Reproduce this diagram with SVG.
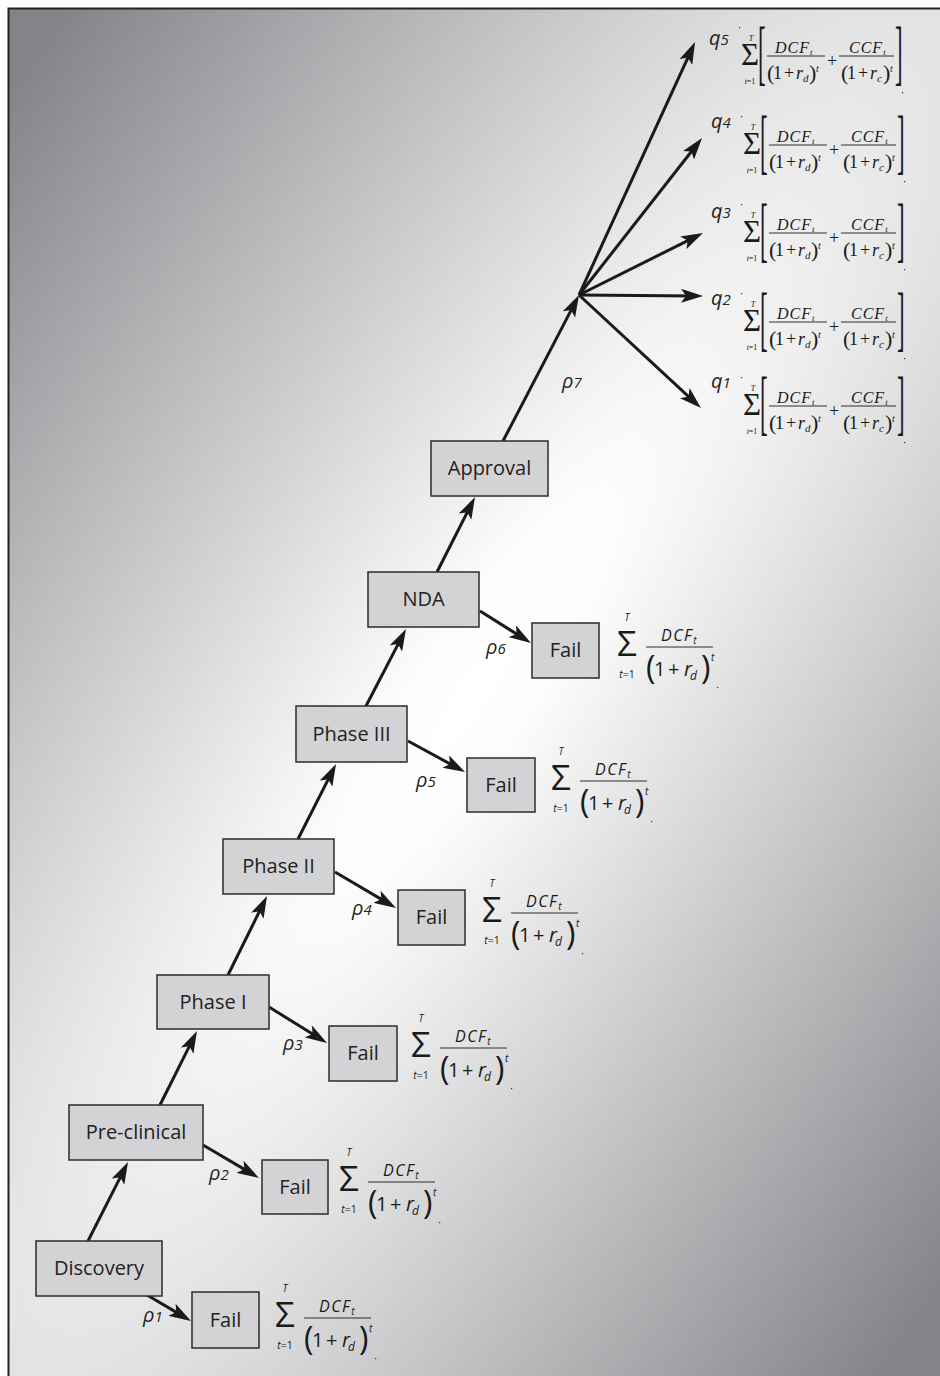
<svg xmlns="http://www.w3.org/2000/svg" width="940" height="1376" viewBox="0 0 940 1376">
<defs>
<radialGradient id="bg" gradientUnits="userSpaceOnUse" cx="0" cy="0" r="1" gradientTransform="translate(474,692) rotate(-55.7) scale(3000,730)">
<stop offset="0" stop-color="#ffffff"/>
<stop offset="0.08" stop-color="#fcfcfc"/>
<stop offset="1" stop-color="#838488"/>
</radialGradient>
<marker id="ah" viewBox="0 0 22 14" markerWidth="22" markerHeight="14" markerUnits="userSpaceOnUse" refX="14" refY="7" orient="auto">
<path d="M0,0 L22,7 L0,14 L5,7 Z" fill="#1a1a1a"/>
</marker>
<style>
.box{fill:#d3d3d5;stroke:#2b2b2b;stroke-width:1.5}
.lbl{font-family:'Open Sans','Liberation Sans',sans-serif;font-size:20px;fill:#222;text-anchor:middle}
.conn{stroke:#1a1a1a;stroke-width:3;fill:none;marker-end:url(#ah)}
.rho{font-family:'Open Sans','Liberation Sans',sans-serif;font-style:italic;font-size:20px;fill:#222}
.dg{font-size:15px}
.s{font-family:'Open Sans','Liberation Sans',sans-serif;fill:#1a1a1a}
.sr{font-family:'Liberation Serif','Times New Roman',serif;fill:#1a1a1a}
.it{font-style:italic}
.mid{text-anchor:middle}
.fl{stroke:#1a1a1a;stroke-width:0.9}
.dot{fill:#333}
</style>
</defs>
<rect x="8" y="8" width="932" height="1368" fill="url(#bg)"/>
<path d="M8.5,1376 V8.5 H940" fill="none" stroke="#222" stroke-width="2"/>

<g id="connectors">
<line class="conn" x1="88" y1="1241" x2="124.4" y2="1169.1"/>
<line class="conn" x1="160" y1="1105" x2="193.4" y2="1038.2"/>
<line class="conn" x1="228" y1="975" x2="263.5" y2="903.2"/>
<line class="conn" x1="298" y1="839" x2="332.4" y2="771.1"/>
<line class="conn" x1="366" y1="706" x2="402.3" y2="636.1"/>
<line class="conn" x1="437" y1="572" x2="471.4" y2="504.1"/>
<line class="conn" x1="503" y1="441" x2="575.3" y2="302.1"/>
<line class="conn" x1="579" y1="295" x2="691.7" y2="49.3"/>
<line class="conn" x1="579" y1="295" x2="697.1" y2="144.3"/>
<line class="conn" x1="579" y1="295" x2="695.8" y2="236.6"/>
<line class="conn" x1="579" y1="295" x2="695" y2="295.9"/>
<line class="conn" x1="579" y1="295" x2="695.1" y2="402.6"/>
<line class="conn" x1="147" y1="1295" x2="184.1" y2="1316.9"/>
<line class="conn" x1="203" y1="1145" x2="252.1" y2="1173.9"/>
<line class="conn" x1="269" y1="1007" x2="320.2" y2="1038.8"/>
<line class="conn" x1="335" y1="872" x2="389.1" y2="903.9"/>
<line class="conn" x1="408" y1="741" x2="458" y2="768.2"/>
<line class="conn" x1="480" y1="611" x2="524.2" y2="638.8"/>
</g>

<g id="discovery"><rect class="box" x="36" y="1241" width="126" height="55"/><text class="lbl" x="99" y="1275">Discovery</text></g>
<g id="preclinical"><rect class="box" x="69" y="1105" width="134" height="55"/><text class="lbl" x="136" y="1139">Pre-clinical</text></g>
<g id="phase1"><rect class="box" x="157" y="975" width="112" height="54"/><text class="lbl" x="213" y="1009">Phase I</text></g>
<g id="phase2"><rect class="box" x="223" y="839" width="111" height="55"/><text class="lbl" x="278.5" y="873">Phase II</text></g>
<g id="phase3"><rect class="box" x="296" y="706" width="111" height="56"/><text class="lbl" x="351.5" y="741">Phase III</text></g>
<g id="nda"><rect class="box" x="368" y="572" width="111" height="55"/><text class="lbl" x="423.5" y="606">NDA</text></g>
<g id="approval"><rect class="box" x="431" y="441" width="117" height="55"/><text class="lbl" x="489.5" y="475">Approval</text></g>

<g id="fail1"><rect class="box" x="192" y="1292" width="67" height="56"/><text class="lbl" x="225.5" y="1327">Fail</text></g>
<g id="fail2"><rect class="box" x="262" y="1160" width="66" height="54"/><text class="lbl" x="295" y="1194">Fail</text></g>
<g id="fail3"><rect class="box" x="329" y="1026" width="68" height="55"/><text class="lbl" x="363" y="1060">Fail</text></g>
<g id="fail4"><rect class="box" x="398" y="890" width="67" height="55"/><text class="lbl" x="431.5" y="924">Fail</text></g>
<g id="fail5"><rect class="box" x="467" y="758" width="68" height="54"/><text class="lbl" x="501" y="792">Fail</text></g>
<g id="fail6"><rect class="box" x="532" y="623" width="67" height="55"/><text class="lbl" x="565.5" y="657">Fail</text></g>

<g id="rho-labels">
<text class="rho" x="143" y="1322">ρ<tspan class="dg">1</tspan></text>
<text class="rho" x="209" y="1180">ρ<tspan class="dg">2</tspan></text>
<text class="rho" x="283" y="1050">ρ<tspan class="dg">3</tspan></text>
<text class="rho" x="352" y="915">ρ<tspan class="dg">4</tspan></text>
<text class="rho" x="416" y="787">ρ<tspan class="dg">5</tspan></text>
<text class="rho" x="486" y="654">ρ<tspan class="dg">6</tspan></text>
<text class="rho" x="562" y="388">ρ<tspan class="dg">7</tspan></text>
</g>

<g id="q-labels">
<text class="rho" x="709" y="45">q<tspan class="dg">5</tspan></text>
<text class="rho" x="711" y="128">q<tspan class="dg">4</tspan></text>
<text class="rho" x="711" y="218">q<tspan class="dg">3</tspan></text>
<text class="rho" x="711" y="305">q<tspan class="dg">2</tspan></text>
<text class="rho" x="711" y="388">q<tspan class="dg">1</tspan></text>
</g>

<!-- fail formulas -->
<g id="ff1" transform="translate(304,1318)">
<text class="s mid" x="-19" y="9" font-size="35">Σ</text>
<text class="s mid it" x="-19" y="-26" font-size="10">T</text>
<text class="s mid" x="-19" y="31" font-size="10.5"><tspan class="it">t</tspan>=1</text>
<text class="s it" x="15" y="-6" font-size="16" letter-spacing="1.5">DCF<tspan font-size="10" dy="3" letter-spacing="0">t</tspan></text>
<line class="fl" x1="0" y1="0" x2="67" y2="0"/>
<text class="s" x="0" y="32" font-size="32">(</text>
<text class="s" x="8" y="29" font-size="20">1</text>
<text class="s" x="22" y="29" font-size="20">+</text>
<text class="s it" x="38" y="29" font-size="20">r</text>
<text class="s it" x="44" y="33" font-size="12">d</text>
<text class="s" x="55" y="32" font-size="32">)</text>
<text class="s it" x="65" y="14" font-size="10">t</text>
<rect class="dot" x="71" y="40" width="1.2" height="1.2"/>
</g>
<g id="ff2" transform="translate(368,1182)">
<text class="s mid" x="-19" y="9" font-size="35">Σ</text>
<text class="s mid it" x="-19" y="-26" font-size="10">T</text>
<text class="s mid" x="-19" y="31" font-size="10.5"><tspan class="it">t</tspan>=1</text>
<text class="s it" x="15" y="-6" font-size="16" letter-spacing="1.5">DCF<tspan font-size="10" dy="3" letter-spacing="0">t</tspan></text>
<line class="fl" x1="0" y1="0" x2="67" y2="0"/>
<text class="s" x="0" y="32" font-size="32">(</text>
<text class="s" x="8" y="29" font-size="20">1</text>
<text class="s" x="22" y="29" font-size="20">+</text>
<text class="s it" x="38" y="29" font-size="20">r</text>
<text class="s it" x="44" y="33" font-size="12">d</text>
<text class="s" x="55" y="32" font-size="32">)</text>
<text class="s it" x="65" y="14" font-size="10">t</text>
<rect class="dot" x="71" y="40" width="1.2" height="1.2"/>
</g>
<g id="ff3" transform="translate(440,1048)">
<text class="s mid" x="-19" y="9" font-size="35">Σ</text>
<text class="s mid it" x="-19" y="-26" font-size="10">T</text>
<text class="s mid" x="-19" y="31" font-size="10.5"><tspan class="it">t</tspan>=1</text>
<text class="s it" x="15" y="-6" font-size="16" letter-spacing="1.5">DCF<tspan font-size="10" dy="3" letter-spacing="0">t</tspan></text>
<line class="fl" x1="0" y1="0" x2="67" y2="0"/>
<text class="s" x="0" y="32" font-size="32">(</text>
<text class="s" x="8" y="29" font-size="20">1</text>
<text class="s" x="22" y="29" font-size="20">+</text>
<text class="s it" x="38" y="29" font-size="20">r</text>
<text class="s it" x="44" y="33" font-size="12">d</text>
<text class="s" x="55" y="32" font-size="32">)</text>
<text class="s it" x="65" y="14" font-size="10">t</text>
<rect class="dot" x="71" y="40" width="1.2" height="1.2"/>
</g>
<g id="ff4" transform="translate(511,913)">
<text class="s mid" x="-19" y="9" font-size="35">Σ</text>
<text class="s mid it" x="-19" y="-26" font-size="10">T</text>
<text class="s mid" x="-19" y="31" font-size="10.5"><tspan class="it">t</tspan>=1</text>
<text class="s it" x="15" y="-6" font-size="16" letter-spacing="1.5">DCF<tspan font-size="10" dy="3" letter-spacing="0">t</tspan></text>
<line class="fl" x1="0" y1="0" x2="67" y2="0"/>
<text class="s" x="0" y="32" font-size="32">(</text>
<text class="s" x="8" y="29" font-size="20">1</text>
<text class="s" x="22" y="29" font-size="20">+</text>
<text class="s it" x="38" y="29" font-size="20">r</text>
<text class="s it" x="44" y="33" font-size="12">d</text>
<text class="s" x="55" y="32" font-size="32">)</text>
<text class="s it" x="65" y="14" font-size="10">t</text>
<rect class="dot" x="71" y="40" width="1.2" height="1.2"/>
</g>
<g id="ff5" transform="translate(580,781)">
<text class="s mid" x="-19" y="9" font-size="35">Σ</text>
<text class="s mid it" x="-19" y="-26" font-size="10">T</text>
<text class="s mid" x="-19" y="31" font-size="10.5"><tspan class="it">t</tspan>=1</text>
<text class="s it" x="15" y="-6" font-size="16" letter-spacing="1.5">DCF<tspan font-size="10" dy="3" letter-spacing="0">t</tspan></text>
<line class="fl" x1="0" y1="0" x2="67" y2="0"/>
<text class="s" x="0" y="32" font-size="32">(</text>
<text class="s" x="8" y="29" font-size="20">1</text>
<text class="s" x="22" y="29" font-size="20">+</text>
<text class="s it" x="38" y="29" font-size="20">r</text>
<text class="s it" x="44" y="33" font-size="12">d</text>
<text class="s" x="55" y="32" font-size="32">)</text>
<text class="s it" x="65" y="14" font-size="10">t</text>
<rect class="dot" x="71" y="40" width="1.2" height="1.2"/>
</g>
<g id="ff6" transform="translate(646,647)">
<text class="s mid" x="-19" y="9" font-size="35">Σ</text>
<text class="s mid it" x="-19" y="-26" font-size="10">T</text>
<text class="s mid" x="-19" y="31" font-size="10.5"><tspan class="it">t</tspan>=1</text>
<text class="s it" x="15" y="-6" font-size="16" letter-spacing="1.5">DCF<tspan font-size="10" dy="3" letter-spacing="0">t</tspan></text>
<line class="fl" x1="0" y1="0" x2="67" y2="0"/>
<text class="s" x="0" y="32" font-size="32">(</text>
<text class="s" x="8" y="29" font-size="20">1</text>
<text class="s" x="22" y="29" font-size="20">+</text>
<text class="s it" x="38" y="29" font-size="20">r</text>
<text class="s it" x="44" y="33" font-size="12">d</text>
<text class="s" x="55" y="32" font-size="32">)</text>
<text class="s it" x="65" y="14" font-size="10">t</text>
<rect class="dot" x="71" y="40" width="1.2" height="1.2"/>
</g>

<!-- q formulas -->
<g id="qf5" transform="translate(758,56)">
<text class="sr mid" x="-8" y="9" font-size="31">Σ</text>
<text class="sr mid it" x="-7" y="-15" font-size="8">T</text>
<text class="sr mid" x="-8" y="28" font-size="8"><tspan class="it">t</tspan>=1</text>
<text class="sr" font-size="72" transform="translate(0,20) scale(0.32,1)">[</text>
<text class="sr it" x="17" y="-3" font-size="16" letter-spacing="1">DCF<tspan font-size="9" dy="2" letter-spacing="0">t</tspan></text>
<line class="fl" x1="9" y1="0" x2="67" y2="0"/>
<text class="sr" x="9" y="24" font-size="22">(</text>
<text class="sr" x="15" y="23" font-size="18">1</text>
<text class="sr" x="26" y="23" font-size="18">+</text>
<text class="sr it" x="38" y="23" font-size="18">r</text>
<text class="sr it" x="45" y="26" font-size="11">d</text>
<text class="sr" x="51" y="24" font-size="22">)</text>
<text class="sr it" x="58" y="16" font-size="10">t</text>
<text class="sr" x="69" y="11" font-size="18">+</text>
<text class="sr it" x="91" y="-3" font-size="16" letter-spacing="1">CCF<tspan font-size="9" dy="2" letter-spacing="0">t</tspan></text>
<line class="fl" x1="81" y1="0" x2="136" y2="0"/>
<text class="sr" x="83" y="24" font-size="22">(</text>
<text class="sr" x="89" y="23" font-size="18">1</text>
<text class="sr" x="100" y="23" font-size="18">+</text>
<text class="sr it" x="112" y="23" font-size="18">r</text>
<text class="sr it" x="119" y="26" font-size="11">c</text>
<text class="sr" x="125" y="24" font-size="22">)</text>
<text class="sr it" x="132" y="16" font-size="10">t</text>
<text class="sr" font-size="72" transform="translate(137,20) scale(0.32,1)">]</text>
<rect class="dot" x="-19" y="-29" width="1.2" height="1.2"/>
<rect class="dot" x="144" y="36" width="1.2" height="1.2"/>
</g>
<g id="qf4" transform="translate(760,145)">
<text class="sr mid" x="-8" y="9" font-size="31">Σ</text>
<text class="sr mid it" x="-7" y="-15" font-size="8">T</text>
<text class="sr mid" x="-8" y="28" font-size="8"><tspan class="it">t</tspan>=1</text>
<text class="sr" font-size="72" transform="translate(0,20) scale(0.32,1)">[</text>
<text class="sr it" x="17" y="-3" font-size="16" letter-spacing="1">DCF<tspan font-size="9" dy="2" letter-spacing="0">t</tspan></text>
<line class="fl" x1="9" y1="0" x2="67" y2="0"/>
<text class="sr" x="9" y="24" font-size="22">(</text>
<text class="sr" x="15" y="23" font-size="18">1</text>
<text class="sr" x="26" y="23" font-size="18">+</text>
<text class="sr it" x="38" y="23" font-size="18">r</text>
<text class="sr it" x="45" y="26" font-size="11">d</text>
<text class="sr" x="51" y="24" font-size="22">)</text>
<text class="sr it" x="58" y="16" font-size="10">t</text>
<text class="sr" x="69" y="11" font-size="18">+</text>
<text class="sr it" x="91" y="-3" font-size="16" letter-spacing="1">CCF<tspan font-size="9" dy="2" letter-spacing="0">t</tspan></text>
<line class="fl" x1="81" y1="0" x2="136" y2="0"/>
<text class="sr" x="83" y="24" font-size="22">(</text>
<text class="sr" x="89" y="23" font-size="18">1</text>
<text class="sr" x="100" y="23" font-size="18">+</text>
<text class="sr it" x="112" y="23" font-size="18">r</text>
<text class="sr it" x="119" y="26" font-size="11">c</text>
<text class="sr" x="125" y="24" font-size="22">)</text>
<text class="sr it" x="132" y="16" font-size="10">t</text>
<text class="sr" font-size="72" transform="translate(137,20) scale(0.32,1)">]</text>
<rect class="dot" x="-19" y="-29" width="1.2" height="1.2"/>
<rect class="dot" x="144" y="36" width="1.2" height="1.2"/>
</g>
<g id="qf3" transform="translate(760,233)">
<text class="sr mid" x="-8" y="9" font-size="31">Σ</text>
<text class="sr mid it" x="-7" y="-15" font-size="8">T</text>
<text class="sr mid" x="-8" y="28" font-size="8"><tspan class="it">t</tspan>=1</text>
<text class="sr" font-size="72" transform="translate(0,20) scale(0.32,1)">[</text>
<text class="sr it" x="17" y="-3" font-size="16" letter-spacing="1">DCF<tspan font-size="9" dy="2" letter-spacing="0">t</tspan></text>
<line class="fl" x1="9" y1="0" x2="67" y2="0"/>
<text class="sr" x="9" y="24" font-size="22">(</text>
<text class="sr" x="15" y="23" font-size="18">1</text>
<text class="sr" x="26" y="23" font-size="18">+</text>
<text class="sr it" x="38" y="23" font-size="18">r</text>
<text class="sr it" x="45" y="26" font-size="11">d</text>
<text class="sr" x="51" y="24" font-size="22">)</text>
<text class="sr it" x="58" y="16" font-size="10">t</text>
<text class="sr" x="69" y="11" font-size="18">+</text>
<text class="sr it" x="91" y="-3" font-size="16" letter-spacing="1">CCF<tspan font-size="9" dy="2" letter-spacing="0">t</tspan></text>
<line class="fl" x1="81" y1="0" x2="136" y2="0"/>
<text class="sr" x="83" y="24" font-size="22">(</text>
<text class="sr" x="89" y="23" font-size="18">1</text>
<text class="sr" x="100" y="23" font-size="18">+</text>
<text class="sr it" x="112" y="23" font-size="18">r</text>
<text class="sr it" x="119" y="26" font-size="11">c</text>
<text class="sr" x="125" y="24" font-size="22">)</text>
<text class="sr it" x="132" y="16" font-size="10">t</text>
<text class="sr" font-size="72" transform="translate(137,20) scale(0.32,1)">]</text>
<rect class="dot" x="-19" y="-29" width="1.2" height="1.2"/>
<rect class="dot" x="144" y="36" width="1.2" height="1.2"/>
</g>
<g id="qf2" transform="translate(760,322)">
<text class="sr mid" x="-8" y="9" font-size="31">Σ</text>
<text class="sr mid it" x="-7" y="-15" font-size="8">T</text>
<text class="sr mid" x="-8" y="28" font-size="8"><tspan class="it">t</tspan>=1</text>
<text class="sr" font-size="72" transform="translate(0,20) scale(0.32,1)">[</text>
<text class="sr it" x="17" y="-3" font-size="16" letter-spacing="1">DCF<tspan font-size="9" dy="2" letter-spacing="0">t</tspan></text>
<line class="fl" x1="9" y1="0" x2="67" y2="0"/>
<text class="sr" x="9" y="24" font-size="22">(</text>
<text class="sr" x="15" y="23" font-size="18">1</text>
<text class="sr" x="26" y="23" font-size="18">+</text>
<text class="sr it" x="38" y="23" font-size="18">r</text>
<text class="sr it" x="45" y="26" font-size="11">d</text>
<text class="sr" x="51" y="24" font-size="22">)</text>
<text class="sr it" x="58" y="16" font-size="10">t</text>
<text class="sr" x="69" y="11" font-size="18">+</text>
<text class="sr it" x="91" y="-3" font-size="16" letter-spacing="1">CCF<tspan font-size="9" dy="2" letter-spacing="0">t</tspan></text>
<line class="fl" x1="81" y1="0" x2="136" y2="0"/>
<text class="sr" x="83" y="24" font-size="22">(</text>
<text class="sr" x="89" y="23" font-size="18">1</text>
<text class="sr" x="100" y="23" font-size="18">+</text>
<text class="sr it" x="112" y="23" font-size="18">r</text>
<text class="sr it" x="119" y="26" font-size="11">c</text>
<text class="sr" x="125" y="24" font-size="22">)</text>
<text class="sr it" x="132" y="16" font-size="10">t</text>
<text class="sr" font-size="72" transform="translate(137,20) scale(0.32,1)">]</text>
<rect class="dot" x="-19" y="-29" width="1.2" height="1.2"/>
<rect class="dot" x="144" y="36" width="1.2" height="1.2"/>
</g>
<g id="qf1" transform="translate(760,406)">
<text class="sr mid" x="-8" y="9" font-size="31">Σ</text>
<text class="sr mid it" x="-7" y="-15" font-size="8">T</text>
<text class="sr mid" x="-8" y="28" font-size="8"><tspan class="it">t</tspan>=1</text>
<text class="sr" font-size="72" transform="translate(0,20) scale(0.32,1)">[</text>
<text class="sr it" x="17" y="-3" font-size="16" letter-spacing="1">DCF<tspan font-size="9" dy="2" letter-spacing="0">t</tspan></text>
<line class="fl" x1="9" y1="0" x2="67" y2="0"/>
<text class="sr" x="9" y="24" font-size="22">(</text>
<text class="sr" x="15" y="23" font-size="18">1</text>
<text class="sr" x="26" y="23" font-size="18">+</text>
<text class="sr it" x="38" y="23" font-size="18">r</text>
<text class="sr it" x="45" y="26" font-size="11">d</text>
<text class="sr" x="51" y="24" font-size="22">)</text>
<text class="sr it" x="58" y="16" font-size="10">t</text>
<text class="sr" x="69" y="11" font-size="18">+</text>
<text class="sr it" x="91" y="-3" font-size="16" letter-spacing="1">CCF<tspan font-size="9" dy="2" letter-spacing="0">t</tspan></text>
<line class="fl" x1="81" y1="0" x2="136" y2="0"/>
<text class="sr" x="83" y="24" font-size="22">(</text>
<text class="sr" x="89" y="23" font-size="18">1</text>
<text class="sr" x="100" y="23" font-size="18">+</text>
<text class="sr it" x="112" y="23" font-size="18">r</text>
<text class="sr it" x="119" y="26" font-size="11">c</text>
<text class="sr" x="125" y="24" font-size="22">)</text>
<text class="sr it" x="132" y="16" font-size="10">t</text>
<text class="sr" font-size="72" transform="translate(137,20) scale(0.32,1)">]</text>
<rect class="dot" x="-19" y="-29" width="1.2" height="1.2"/>
<rect class="dot" x="144" y="36" width="1.2" height="1.2"/>
</g>
</svg>
